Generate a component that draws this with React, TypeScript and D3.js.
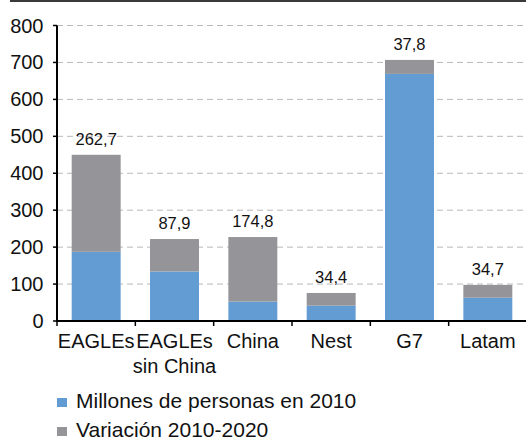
import React from "react";
import * as d3 from "d3";

const categories: string[][] = [["EAGLEs"], ["EAGLEs", "sin China"], ["China"], ["Nest"], ["G7"], ["Latam"]];
const base2010: number[] = [187.3, 134, 52.5, 41.5, 669, 63];
const variation: number[] = [262.7, 87.9, 174.8, 34.4, 37.8, 34.7];
const variationLabels: string[] = ["262,7", "87,9", "174,8", "34,4", "37,8", "34,7"];
const yTicks: number[] = [0, 100, 200, 300, 400, 500, 600, 700, 800];
const seriesNames: string[] = ["Millones de personas en 2010", "Variación 2010-2020"];

const W = 526;
const H = 440;
const left = 57;
const right = 527;
const top = 25.5;
const bottom = 321;
const BLUE = "#629CD3";
const GRAY = "#949499";
const FONT = "'Liberation Sans', Arial, sans-serif";

export default function App() {
  const x = d3.scaleBand<number>().domain(categories.map((_, i) => i)).range([left, right]).paddingInner(0.375).paddingOuter(0.1875);
  const y = d3.scaleLinear().domain([0, 800]).range([bottom, top]);
  const bw = x.bandwidth();
  const step = x.step();
  const colors = [BLUE, GRAY];

  return (
    <svg width={W} height={H} style={{ position: "absolute", left: 0, top: 0, fontFamily: FONT }}>
      <rect width={W} height={H} fill="#fff" />
      <line x1={10} x2={W} y1={1} y2={1} stroke="#3a3a3a" strokeWidth={2} />
      {yTicks.filter((t) => t > 0).map((t) => (
        <line key={t} x1={left} x2={W} y1={y(t)} y2={y(t)} stroke="#b8b8bc" strokeWidth={1} strokeDasharray="6,4" />
      ))}
      {categories.map((_, i) => {
        const b = base2010[i];
        const v = variation[i];
        const x0 = x(i)!;
        return (
          <g key={i}>
            <rect x={x0} y={y(b)} width={bw} height={y(0) - y(b)} fill={BLUE} />
            <rect x={x0} y={y(b + v)} width={bw} height={y(b) - y(b + v)} fill={GRAY} />
            <text x={x0 + bw / 2} y={y(b + v) - 10} textAnchor="middle" fontSize={16.5} fill="#111">
              {variationLabels[i]}
            </text>
          </g>
        );
      })}
      <line x1={left} x2={left} y1={top} y2={bottom + 1} stroke="#000" strokeWidth={2} />
      <line x1={left - 1} x2={W} y1={bottom} y2={bottom} stroke="#000" strokeWidth={2} />
      {yTicks.map((t) => (
        <g key={t}>
          <line x1={left - 4} x2={left} y1={y(t)} y2={y(t)} stroke="#000" strokeWidth={1.5} />
          <text x={43.5} y={y(t) + 7} textAnchor="end" fontSize={20} fill="#111">
            {t}
          </text>
        </g>
      ))}
      {categories.map((_, i) => (
        <line key={"t" + i} x1={left + i * step} x2={left + i * step} y1={bottom} y2={bottom + 5} stroke="#000" strokeWidth={1.5} />
      ))}
      {categories.map((lines, i) => (
        <text key={"c" + i} x={x(i)! + bw / 2} y={348} textAnchor="middle" fontSize={20} fill="#111">
          {lines.map((l, j) => (
            <tspan key={j} x={x(i)! + bw / 2} dy={j === 0 ? 0 : 25}>
              {l}
            </tspan>
          ))}
        </text>
      ))}
      {seriesNames.map((s, i) => (
        <g key={s}>
          <rect x={57} y={398 + i * 29} width={10} height={9} fill={colors[i]} />
          <text x={76} y={408 + i * 29} fontSize={21} fill="#111">
            {s}
          </text>
        </g>
      ))}
    </svg>
  );
}
